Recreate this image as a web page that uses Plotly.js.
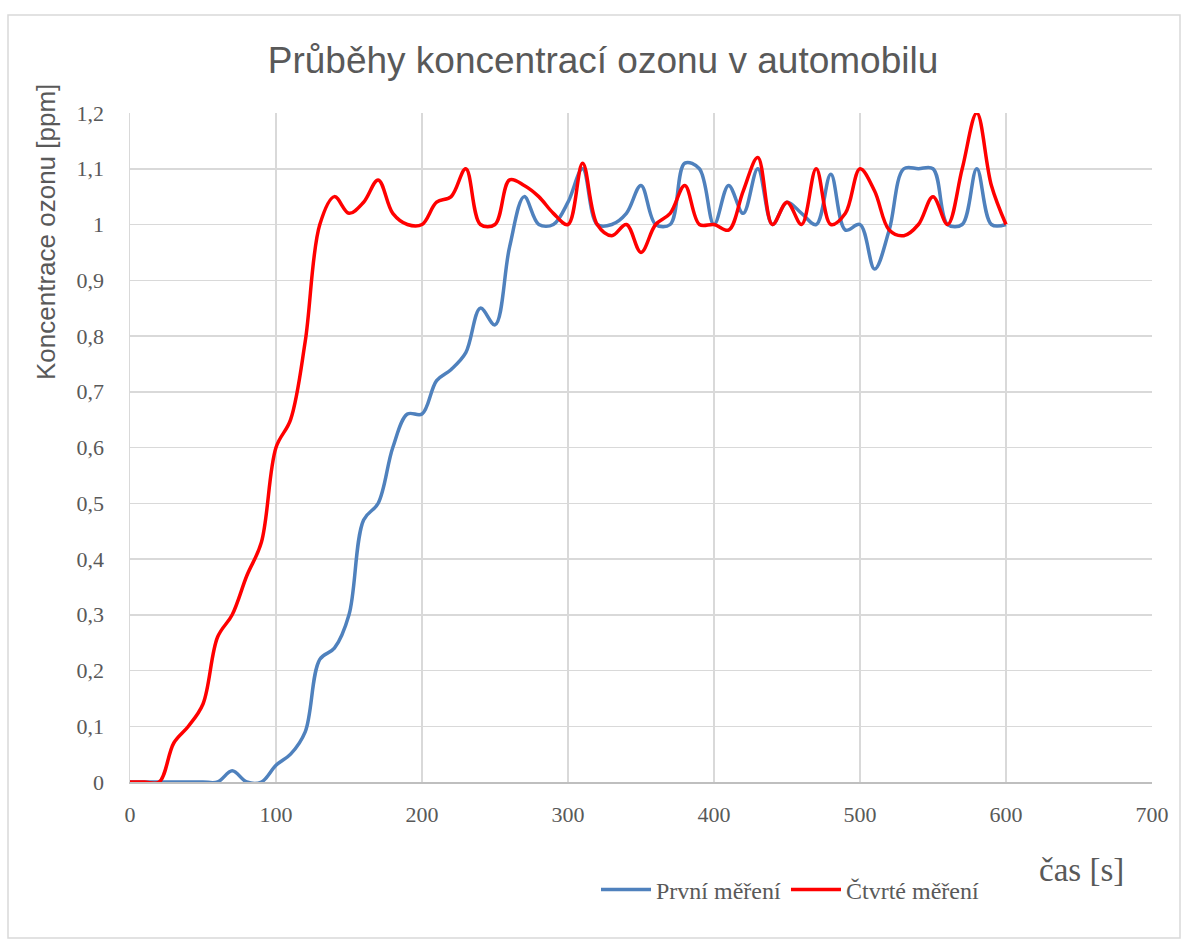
<!DOCTYPE html>
<html>
<head>
<meta charset="utf-8">
<script src="https://cdn.plot.ly/plotly-3.0.1.min.js"></script>
<style>
html,body{margin:0;padding:0;background:#fff;}
#chart{width:1188px;height:945px;}
</style>
</head>
<body>
<div id="chart"></div>
<script>
const time = [0,10,20,30,40,50,60,70,80,90,100,110,120,130,140,150,160,170,180,190,200,210,220,230,240,250,260,270,280,290,300,310,320,330,340,350,360,370,380,390,400,410,420,430,440,450,460,470,480,490,500,510,520,530,540,550,560,570,580,590,600];
const prvni = [0,0,0,0,0,0,0,0.02,0,0,0.03,0.05,0.09,0.22,0.24,0.3,0.47,0.5,0.6,0.66,0.66,0.72,0.74,0.77,0.85,0.82,0.96,1.05,1.0,1.0,1.04,1.1,1.0,1.0,1.02,1.07,1.0,1.0,1.11,1.1,1.0,1.07,1.02,1.1,1.0,1.04,1.02,1.0,1.09,0.99,1.0,0.92,0.99,1.1,1.1,1.1,1.0,1.0,1.1,1.0,1.0];
const ctvrte = [0,0,0,0.07,0.1,0.14,0.26,0.3,0.37,0.43,0.6,0.65,0.79,1.0,1.05,1.02,1.04,1.08,1.02,1.0,1.0,1.04,1.05,1.1,1.0,1.0,1.08,1.07,1.05,1.02,1.0,1.11,1.0,0.98,1.0,0.95,1.0,1.02,1.07,1.0,1.0,0.99,1.06,1.12,1.0,1.04,1.0,1.1,1.0,1.02,1.1,1.06,0.99,0.98,1.0,1.05,1.0,1.1,1.2,1.07,1.0];
const seriesNames = ["První měření","Čtvrté měření"];
const chartTitle = "Průběhy koncentrací ozonu v automobilu";
const yTitle = "Koncentrace ozonu [ppm]";
const xTitle = "čas [s]";

const grid = "#d9d9d9";
const txt = "#595959";
const serif = "Liberation Serif, Times New Roman, serif";
const sans = "Liberation Sans, Arial, sans-serif";

const traces = [
  {x: time, y: prvni, name: seriesNames[0], type: "scatter", mode: "lines",
   line: {color: "#4f81bd", width: 3.5, shape: "spline", smoothing: 1}},
  {x: time, y: ctvrte, name: seriesNames[1], type: "scatter", mode: "lines",
   line: {color: "#ff0000", width: 3.5, shape: "spline", smoothing: 1}}
];

const L = 130, R = 36, T = 113, B = 163, W = 1188, H = 945;
const pw = W - L - R, ph = H - T - B;
const px = v => (v - L) / pw;
const py = v => (H - B - v) / ph;

const layout = {
  width: W, height: H,
  margin: {l: L, r: R, t: T, b: B, pad: 0},
  paper_bgcolor: "#fff", plot_bgcolor: "#fff",
  separators: ", ",
  showlegend: true,
  title: {text: chartTitle, font: {family: sans, size: 37, color: txt},
          xref: "paper", x: px(603), xanchor: "center",
          yref: "container", y: 1 - 60/H, yanchor: "middle"},
  xaxis: {range: [0, 700], dtick: 100, tick0: 0, showgrid: true, gridcolor: grid, gridwidth: 1.5,
          zeroline: false, showline: true, linecolor: "#bfbfbf", linewidth: 1.5,
          ticks: "", tickfont: {family: serif, size: 22, color: txt}, ticklabelstandoff: 12,
          fixedrange: true},
  yaxis: {range: [0, 1.2], dtick: 0.1, tick0: 0, showgrid: true, gridcolor: grid, gridwidth: 1.5,
          zeroline: false, showline: true, linecolor: grid, linewidth: 1.5,
          ticks: "", tickfont: {family: serif, size: 22, color: txt}, ticklabelstandoff: 20,
          fixedrange: true},
  legend: {orientation: "h", x: px(596), xanchor: "left", y: py(890), yanchor: "middle",
           font: {family: serif, size: 24, color: txt}, bgcolor: "rgba(0,0,0,0)",
           itemwidth: 50, tracegroupgap: 0},
  annotations: [
    {text: yTitle, xref: "paper", yref: "paper", x: px(46), y: py(232), textangle: -90,
     showarrow: false, xanchor: "center", yanchor: "middle",
     font: {family: sans, size: 26, color: txt}},
    {text: xTitle, xref: "paper", yref: "paper", x: px(1081), y: py(870),
     showarrow: false, xanchor: "center", yanchor: "middle",
     font: {family: serif, size: 33, color: txt}}
  ],
  shapes: [
    {type: "rect", xref: "paper", yref: "paper", x0: px(8), x1: px(1180), y0: py(938), y1: py(15),
     line: {color: grid, width: 1.5}, fillcolor: "rgba(0,0,0,0)", layer: "below"}
  ]
};

Plotly.newPlot("chart", traces, layout, {displayModeBar: false, staticPlot: true});
</script>
</body>
</html>
